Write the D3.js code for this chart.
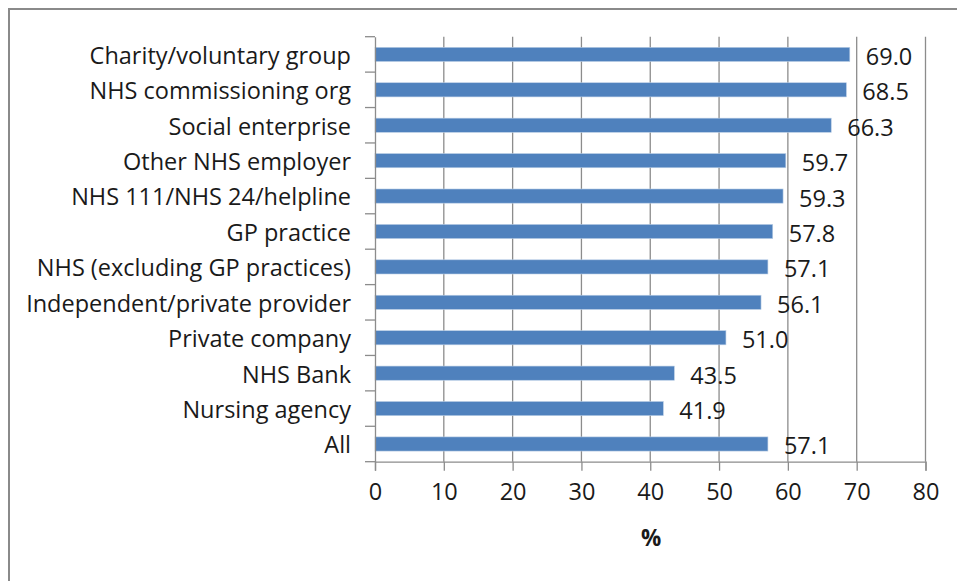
<!DOCTYPE html>
<html><head><meta charset="utf-8">
<script src="https://cdn.jsdelivr.net/npm/d3@7"></script>
<style>body{margin:0;background:#fff}svg{display:block}text{font-family:"Open Sans",sans-serif;fill:#1a1a1a}</style>
</head><body><svg id="c" width="957" height="581"></svg>
<script>
const categories = ["Charity/voluntary group","NHS commissioning org","Social enterprise","Other NHS employer","NHS 111/NHS 24/helpline","GP practice","NHS (excluding GP practices)","Independent/private provider","Private company","NHS Bank","Nursing agency","All"];
const values = [69.0,68.5,66.3,59.7,59.3,57.8,57.1,56.1,51.0,43.5,41.9,57.1];
const xTicks = [0,10,20,30,40,50,60,70,80];
const axisTitle = "%";

const FS = 23.5;
const svg = d3.select("#c");
const m = {l:375, r:925.5, t:36.7, b:461.7};
const x = d3.scaleLinear().domain([0,80]).range([m.l,m.r]);
const y = d3.scaleBand().domain(categories).range([m.t,m.b]).paddingInner(0.6).paddingOuter(0.3);
const yb = d3.scaleBand().domain(categories).range([m.t,m.b]);

// frame
svg.append("path").attr("d","M9,581 V9 H957").attr("fill","none").attr("stroke","#8a8a8a").attr("stroke-width",2);

// gridlines
svg.append("g").selectAll("line").data(xTicks.slice(1)).join("line")
  .attr("x1",d=>x(d)).attr("x2",d=>x(d)).attr("y1",m.t).attr("y2",m.b)
  .attr("stroke","#8c8c8c").attr("stroke-width",1.3);

// bars
svg.append("g").selectAll("rect").data(values).join("rect")
  .attr("x",x(0)).attr("y",(d,i)=>y(categories[i]))
  .attr("width",d=>x(d)-x(0)).attr("height",y.bandwidth())
  .attr("fill","#4f81bd").attr("stroke","#b9cde5").attr("stroke-width",0.6);

// x axis
const xa = svg.append("g").attr("transform",`translate(0,${m.b})`)
  .call(d3.axisBottom(x).tickValues(xTicks).tickSize(9).tickPadding(13));
xa.select(".domain").attr("stroke","#8c8c8c").attr("stroke-width",1.3);
xa.selectAll(".tick line").attr("stroke","#8c8c8c").attr("stroke-width",1.3);
xa.selectAll("text").attr("font-size",FS).attr("font-family","Open Sans").attr("fill","#1a1a1a");

// y axis
const ya = svg.append("g").attr("transform",`translate(${m.l},0)`)
  .call(d3.axisLeft(yb).tickSize(0).tickPadding(24));
ya.select(".domain").attr("stroke","#8c8c8c").attr("stroke-width",1.3);
ya.selectAll("text").attr("font-size",FS).attr("font-family","Open Sans").attr("fill","#1a1a1a").attr("dy","0.40em");
// band boundary ticks
svg.append("g").selectAll("line").data(d3.range(categories.length+1)).join("line")
  .attr("x1",m.l-10).attr("x2",m.l).attr("y1",i=>m.t+i*yb.step()).attr("y2",i=>m.t+i*yb.step())
  .attr("stroke","#8c8c8c").attr("stroke-width",1.3);

// value labels
svg.append("g").selectAll("text").data(values).join("text")
  .attr("x",d=>x(d)+16).attr("y",(d,i)=>yb(categories[i])+yb.bandwidth()/2+2)
  .attr("dy","0.36em").attr("font-size",FS).text(d=>d.toFixed(1));

svg.append("text").attr("x",(m.l+m.r)/2+1).attr("y",546).attr("text-anchor","middle")
  .attr("font-size",FS-1).attr("font-weight","bold").text(axisTitle);
</script></body></html>
